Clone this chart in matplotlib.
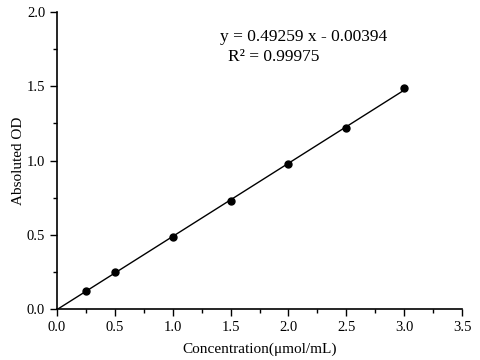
import matplotlib
matplotlib.use("Agg")
import matplotlib.pyplot as plt
import numpy as np
from matplotlib.ticker import MultipleLocator, FormatStrFormatter

# standard curve data
conc = [0.25, 0.5, 1.0, 1.5, 2.0, 2.5, 3.0]
od = [0.121, 0.246, 0.485, 0.730, 0.977, 1.222, 1.487]
slope = 0.49259
intercept = -0.00394
r2 = 0.99975

plt.rcParams['font.family'] = ['Liberation Serif', 'DejaVu Serif']

fig = plt.figure(figsize=(4.8, 3.6), dpi=100)
ax = fig.add_axes([57/480, 51/360, 405/480, 297/360])

xfit = np.array([0.0, 3.0])
ax.plot(xfit, slope * xfit + intercept, color='black', lw=1.0, zorder=2)
ax.plot(conc, od, 'o', color='black', ms=5, zorder=3, clip_on=False)

ax.set_xlim(0, 3.5)
ax.set_ylim(0, 2.0)
ax.xaxis.set_major_locator(MultipleLocator(0.5))
ax.xaxis.set_minor_locator(MultipleLocator(0.25))
ax.yaxis.set_major_locator(MultipleLocator(0.5))
ax.yaxis.set_minor_locator(MultipleLocator(0.25))
ax.xaxis.set_major_formatter(FormatStrFormatter('%.1f'))
ax.yaxis.set_major_formatter(FormatStrFormatter('%.1f'))

for s in ['top', 'right']:
    ax.spines[s].set_visible(False)
for s in ['left', 'bottom']:
    ax.spines[s].set_linewidth(1.2)

ax.tick_params(which='major', direction='out', length=5, width=1, labelsize=10.5)
ax.tick_params(which='minor', direction='out', length=3, width=1)

ax.set_xlabel('Concentration(μmol/mL)', fontsize=11, labelpad=6)
ax.set_ylabel('Absoluted OD', fontsize=11, labelpad=1)

ax.text(1.41, 1.805, 'y = %.5f x - %.5f' % (slope, -intercept), fontsize=12.5)
ax.text(1.48, 1.67, 'R² = %.5f' % r2, fontsize=12.5)

fig.savefig('out.png', dpi=100)
